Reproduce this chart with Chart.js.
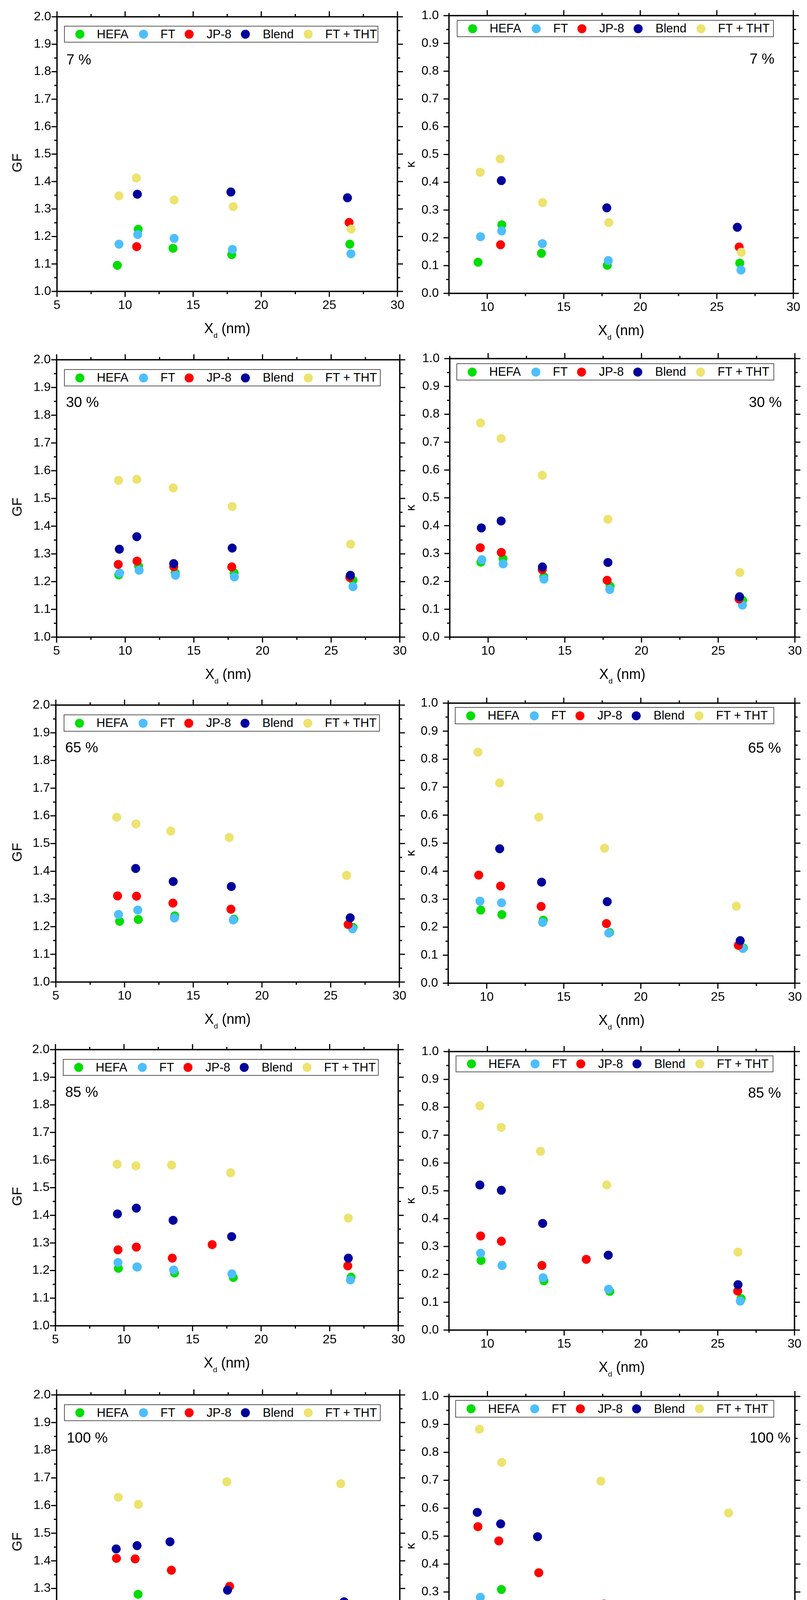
<!DOCTYPE html>
<html>
<head>
<meta charset="utf-8">
<script src="https://cdn.jsdelivr.net/npm/chart.js@4.4.1/dist/chart.umd.min.js"></script>
<style>
  html, body { margin:0; padding:0; background:#fff; }
  body { width:2067px; height:4426px; position:relative; overflow:hidden; font-family:"Liberation Sans", Arial, sans-serif; color:#000; }
  .panel { position:absolute; }
  .panel canvas { position:absolute; left:0; top:0; }
  .lg { position:absolute; border:2px solid #5a5a5a; box-sizing:border-box; background:#fff; }
  .lg .dot { position:absolute; width:23px; height:23px; border-radius:50%; }
  .lg .txt { position:absolute; font-size:31px; white-space:nowrap; top:0; }
  .pct { position:absolute; font-size:37px; line-height:37px; white-space:nowrap; }
  .xt { position:absolute; font-size:36px; line-height:36px; white-space:nowrap; transform:translateX(-50%); }
  .xt .sub { font-size:19px; position:relative; top:12px; }
  .yt { position:absolute; white-space:nowrap; transform:translate(-50%,-50%) rotate(-90deg); line-height:1; }
</style>
</head>
<body>
<script>
// ---------------- DATA ----------------
const seriesNames  = ['HEFA', 'FT', 'JP-8', 'Blend', 'FT + THT'];
const seriesColors = ['#00dd00', '#4dbeff', '#ff0000', '#00009c', '#ede36e'];

const gfTicks     = [1.0,1.1,1.2,1.3,1.4,1.5,1.6,1.7,1.8,1.9,2.0];
const gfMinor     = [1.05,1.15,1.25,1.35,1.45,1.55,1.65,1.75,1.85,1.95];
const kappaTicks  = [0.0,0.1,0.2,0.3,0.4,0.5,0.6,0.7,0.8,0.9,1.0];
const kappaMinor  = [0.05,0.15,0.25,0.35,0.45,0.55,0.65,0.75,0.85,0.95];
const xTicksGF    = [5,10,15,20,25,30];
const xTicksKappa = [10,15,20,25,30];
const xMinor      = [7.5,12.5,17.5,22.5,27.5];
const rhLabels    = ['7 %', '30 %', '65 %', '85 %', '100 %'];

// GF, 7 %
const gf07_hefa  = [[9.43,1.095],[10.96,1.226],[13.52,1.157],[17.83,1.134],[26.50,1.172]];
const gf07_ft    = [[9.55,1.172],[10.93,1.207],[13.60,1.193],[17.88,1.153],[26.58,1.137]];
const gf07_jp8   = [[10.85,1.163],[26.45,1.251]];
const gf07_blend = [[10.90,1.354],[17.77,1.362],[26.33,1.341]];
const gf07_tht   = [[9.55,1.348],[10.83,1.413],[13.60,1.333],[17.94,1.309],[26.60,1.227]];
// kappa, 7 %
const k07_hefa  = [[9.40,0.112],[10.95,0.247],[13.54,0.144],[17.84,0.101],[26.50,0.109]];
const k07_ft    = [[9.56,0.204],[10.94,0.225],[13.60,0.179],[17.91,0.118],[26.58,0.084]];
const k07_jp8   = [[10.87,0.175],[26.46,0.167]];
const k07_blend = [[10.92,0.406],[17.81,0.308],[26.34,0.238]];
const k07_tht   = [[9.54,0.436],[10.85,0.484],[13.62,0.327],[17.94,0.255],[26.60,0.148]];
// GF, 30 %
const gf30_hefa  = [[9.53,1.224],[10.97,1.256],[13.64,1.232],[17.93,1.232],[26.59,1.205]];
const gf30_ft    = [[9.59,1.231],[11.01,1.241],[13.66,1.223],[17.95,1.217],[26.59,1.182]];
const gf30_jp8   = [[9.49,1.262],[10.86,1.274],[13.53,1.254],[17.76,1.253],[26.36,1.215]];
const gf30_blend = [[9.57,1.317],[10.84,1.362],[13.53,1.265],[17.79,1.321],[26.40,1.223]];
const gf30_tht   = [[9.51,1.565],[10.84,1.569],[13.49,1.538],[17.79,1.471],[26.42,1.335]];
// kappa, 30 %
const k30_hefa  = [[9.53,0.269],[10.97,0.282],[13.63,0.217],[17.95,0.183],[26.59,0.132]];
const k30_ft    = [[9.59,0.278],[10.98,0.263],[13.64,0.208],[17.93,0.171],[26.58,0.115]];
const k30_jp8   = [[9.49,0.321],[10.86,0.304],[13.53,0.242],[17.76,0.204],[26.36,0.137]];
const k30_blend = [[9.56,0.392],[10.85,0.417],[13.54,0.252],[17.81,0.268],[26.39,0.145]];
const k30_tht   = [[9.51,0.769],[10.85,0.713],[13.53,0.581],[17.81,0.423],[26.41,0.232]];
// GF, 65 %
const gf65_hefa  = [[9.64,1.219],[11.00,1.226],[13.65,1.239],[17.96,1.227],[26.63,1.197]];
const gf65_ft    = [[9.56,1.244],[10.96,1.260],[13.63,1.231],[17.91,1.224],[26.59,1.192]];
const gf65_jp8   = [[9.49,1.311],[10.87,1.310],[13.52,1.285],[17.74,1.263],[26.27,1.208]];
const gf65_blend = [[10.81,1.410],[13.54,1.363],[17.77,1.345],[26.42,1.232]];
const gf65_tht   = [[9.43,1.595],[10.83,1.571],[13.36,1.545],[17.62,1.522],[26.16,1.385]];
// kappa, 65 %
const k65_hefa  = [[9.61,0.261],[10.98,0.245],[13.67,0.225],[17.97,0.181],[26.66,0.126]];
const k65_ft    = [[9.56,0.293],[10.96,0.287],[13.63,0.217],[17.92,0.179],[26.62,0.124]];
const k65_jp8   = [[9.48,0.386],[10.90,0.347],[13.53,0.274],[17.77,0.213],[26.33,0.135]];
const k65_blend = [[10.84,0.480],[13.56,0.361],[17.82,0.291],[26.45,0.152]];
const k65_tht   = [[9.43,0.825],[10.84,0.715],[13.38,0.593],[17.65,0.482],[26.20,0.275]];
// GF, 85 %
const gf85_hefa  = [[9.59,1.208],[10.96,1.213],[13.68,1.191],[17.97,1.175],[26.56,1.176]];
const gf85_ft    = [[9.56,1.229],[10.94,1.213],[13.62,1.202],[17.87,1.188],[26.51,1.166]];
const gf85_jp8   = [[9.56,1.275],[10.90,1.285],[13.52,1.245],[16.43,1.294],[26.32,1.217]];
const gf85_blend = [[9.52,1.405],[10.90,1.426],[13.58,1.382],[17.85,1.323],[26.36,1.245]];
const gf85_tht   = [[9.50,1.585],[10.87,1.579],[13.47,1.582],[17.78,1.554],[26.36,1.390]];
// kappa, 85 %
const k85_hefa  = [[9.59,0.250],[10.96,0.232],[13.68,0.177],[17.97,0.139],[26.52,0.113]];
const k85_ft    = [[9.56,0.276],[10.95,0.232],[13.63,0.188],[17.89,0.147],[26.47,0.104]];
const k85_jp8   = [[9.56,0.338],[10.91,0.319],[13.55,0.232],[16.44,0.254],[26.30,0.140]];
const k85_blend = [[9.51,0.521],[10.91,0.502],[13.60,0.383],[17.87,0.269],[26.32,0.163]];
const k85_tht   = [[9.51,0.805],[10.90,0.728],[13.46,0.642],[17.77,0.521],[26.32,0.280]];
// GF, 100 %
const gf100_hefa  = [[9.59,1.214],[10.93,1.279],[13.59,1.202],[17.81,1.192],[25.87,1.203]];
const gf100_ft    = [[9.55,1.232],[10.91,1.210],[17.89,1.144]];
const gf100_jp8   = [[9.36,1.409],[10.72,1.407],[13.36,1.366],[17.60,1.308]];
const gf100_blend = [[9.34,1.443],[10.86,1.455],[13.26,1.469],[17.45,1.294],[25.94,1.252]];
const gf100_tht   = [[9.49,1.630],[10.95,1.604],[17.40,1.686],[25.70,1.679]];
// kappa, 100 %
const k100_hefa  = [[9.58,0.257],[10.91,0.309],[13.60,0.189],[17.82,0.151],[25.83,0.134]];
const k100_ft    = [[9.54,0.281],[10.91,0.229],[17.89,0.111]];
const k100_jp8   = [[9.38,0.534],[10.74,0.483],[13.34,0.369],[17.58,0.257]];
const k100_blend = [[9.34,0.585],[10.86,0.544],[13.26,0.498],[17.43,0.246],[25.91,0.169],[26.35,0.163]];
const k100_tht   = [[9.48,0.883],[10.93,0.764],[17.38,0.697],[25.68,0.583]];

// ---------------- LAYOUT ----------------
// plot area inside each panel: [left, top, right, bottom]
const plotBoxes = [
  [146,43,1018,746], [117,40,999,751],
  [145,36,1024,746], [119,33,1003,746],
  [143,35,1023,744], [115,30,1003,747],
  [142,32,1020,739], [117,37,1002,750],
  [145,31,1024,739], [117,35,1003,750]
];
// legend boxes: [left, top, width, height]
const legendBoxes = [
  [164,66,805,43], [137,51,812,44],
  [164,60,811,44], [136,45,814,44],
  [163,59,810,44], [132,40,818,44],
  [161,56,809,43], [134,47,814,43],
  [164,55,811,43], [133,44,817,45]
];
const legendDotX  = [40,203,320,464,625];
const legendTextX = [84,247,365,509,669];
// percent label position: [left, capTop]
const pctPos = [
  [170,139],[887,137],
  [169,131],[885,131],
  [167,130],[883,131],
  [167,127],[883,129],
  [171,127],[887,127]
];

const panelSeries = [
  [gf07_hefa, gf07_ft, gf07_jp8, gf07_blend, gf07_tht],
  [k07_hefa, k07_ft, k07_jp8, k07_blend, k07_tht],
  [gf30_hefa, gf30_ft, gf30_jp8, gf30_blend, gf30_tht],
  [k30_hefa, k30_ft, k30_jp8, k30_blend, k30_tht],
  [gf65_hefa, gf65_ft, gf65_jp8, gf65_blend, gf65_tht],
  [k65_hefa, k65_ft, k65_jp8, k65_blend, k65_tht],
  [gf85_hefa, gf85_ft, gf85_jp8, gf85_blend, gf85_tht],
  [k85_hefa, k85_ft, k85_jp8, k85_blend, k85_tht],
  [gf100_hefa, gf100_ft, gf100_jp8, gf100_blend, gf100_tht],
  [k100_hefa, k100_ft, k100_jp8, k100_blend, k100_tht]
];

const FONT = '"Liberation Sans", Arial, sans-serif';

// frame + mirrored ticks drawn from the chart's own scales
const framePlugin = {
  id: 'frame',
  afterDraw(chart, args, opts) {
    const {ctx, chartArea: a, scales: {x, y}} = chart;
    ctx.save();
    ctx.strokeStyle = '#000';
    ctx.lineCap = 'butt';
    ctx.lineWidth = 3;
    const MAJ = 14, MIN = 7;
    const xs = (vals, len) => vals.forEach(v => {
      const p = x.getPixelForValue(v);
      ctx.beginPath();
      ctx.moveTo(p, a.bottom); ctx.lineTo(p, a.bottom + len);
      ctx.moveTo(p, a.top); ctx.lineTo(p, a.top - len);
      ctx.stroke();
    });
    const ys = (vals, len) => vals.forEach(v => {
      const p = y.getPixelForValue(v);
      ctx.beginPath();
      ctx.moveTo(a.left, p); ctx.lineTo(a.left - len, p);
      ctx.moveTo(a.right, p); ctx.lineTo(a.right + len, p);
      ctx.stroke();
    });
    xs(x.ticks.map(t => t.value), MAJ);
    xs(opts.xMinor, MIN);
    ys(y.ticks.map(t => t.value), MAJ);
    ys(opts.yMinor, MIN);
    ctx.lineWidth = 3.5;
    ctx.strokeRect(a.left, a.top, a.right - a.left, a.bottom - a.top);
    ctx.restore();
  }
};

function el(tag, cls, parent, style, html) {
  const e = document.createElement(tag);
  if (cls) e.className = cls;
  if (style) Object.assign(e.style, style);
  if (html !== undefined) e.innerHTML = html;
  parent.appendChild(e);
  return e;
}

for (let i = 0; i < 10; i++) {
  const col = i % 2, row = Math.floor(i / 2);
  const isGF = col === 0;
  const W = col === 0 ? 1033 : 1034;
  const CW = W + 30;            // canvas a bit wider so edge labels are not clipped
  const H = row === 4 ? 886 : 885;
  const [pl, pt, pr, pb] = plotBoxes[i];

  const panel = el('div', 'panel', document.body, {left: (col * 1033) + 'px', top: (row * 885) + 'px', width: W + 'px', height: H + 'px'});
  const cv = el('canvas', '', panel);
  cv.width = CW; cv.height = H;
  cv.style.width = CW + 'px'; cv.style.height = H + 'px';

  const datasets = panelSeries[i].map((pts, k) => ({
    label: seriesNames[k],
    data: pts.map(([x, y]) => ({x, y})),
    backgroundColor: seriesColors[k],
    borderColor: seriesColors[k],
    pointRadius: 11.5,
    pointHoverRadius: 11.5,
    pointBorderWidth: 0,
    showLine: false,
    order: 4 - k
  }));

  const xMaj = isGF ? xTicksGF : xTicksKappa;
  const yMaj = isGF ? gfTicks : kappaTicks;

  new Chart(cv, {
    type: 'scatter',
    data: { datasets },
    plugins: [framePlugin],
    options: {
      responsive: false,
      maintainAspectRatio: false,
      devicePixelRatio: 1,
      animation: false,
      events: [],
      layout: { autoPadding: false, padding: { left: 0, top: pt, right: CW - pr, bottom: 0 } },
      plugins: {
        legend: { display: false },
        tooltip: { enabled: false },
        frame: { xMinor: xMinor, yMinor: isGF ? gfMinor : kappaMinor }
      },
      scales: {
        x: {
          type: 'linear',
          min: isGF ? 5 : 7.5,
          max: 30,
          afterBuildTicks: s => { s.ticks = xMaj.map(v => ({value: v})); },
          afterFit: s => { s.height = H - pb; s.paddingLeft = 0; s.paddingRight = 0; },
          grid: { display: false, drawTicks: false },
          border: { display: false },
          ticks: { color: '#000', font: { family: FONT, size: 32 }, padding: 17, maxRotation: 0, autoSkip: false, callback: v => String(v) }
        },
        y: {
          type: 'linear',
          min: isGF ? 1.0 : 0.0,
          max: isGF ? 2.0 : 1.0,
          afterBuildTicks: s => { s.ticks = yMaj.map(v => ({value: v})); },
          afterFit: s => { s.width = pl; s.paddingTop = 0; s.paddingBottom = 0; },
          grid: { display: false, drawTicks: false },
          border: { display: false },
          ticks: { color: '#000', font: { family: FONT, size: 32 }, padding: isGF ? 15 : 26, autoSkip: false, callback: v => v.toFixed(1) }
        }
      }
    }
  });

  // legend
  const [lx, ly, lw, lh] = legendBoxes[i];
  const lg = el('div', 'lg', panel, {left: lx + 'px', top: ly + 'px', width: lw + 'px', height: lh + 'px'});
  const inner = lh - 4;
  seriesNames.forEach((nm, k) => {
    el('span', 'dot', lg, {left: (legendDotX[k] - 11.5 - 2) + 'px', top: ((inner - 23) / 2) + 'px', background: seriesColors[k]});
    el('span', 'txt', lg, {left: (legendTextX[k] - 2) + 'px', lineHeight: inner + 'px'}, nm);
  });

  // RH label
  const [qx, qy] = pctPos[i];
  el('div', 'pct', panel, {left: qx + 'px', top: (qy - 5) + 'px'}, rhLabels[row]);

  // x-axis title
  el('div', 'xt', panel, {left: ((pl + pr) / 2) + 'px', top: (pb + 77) + 'px'}, 'X<span class="sub">d</span> (nm)');

  // y-axis title
  if (isGF) {
    el('div', 'yt', panel, {left: '43px', top: ((pt + pb) / 2 + 22) + 'px', fontSize: '35px'}, 'GF');
  } else {
    el('div', 'yt', panel, {left: '18px', top: ((pt + pb) / 2 + 25) + 'px', fontSize: '32px'}, 'κ');
  }
}
</script>
</body>
</html>
